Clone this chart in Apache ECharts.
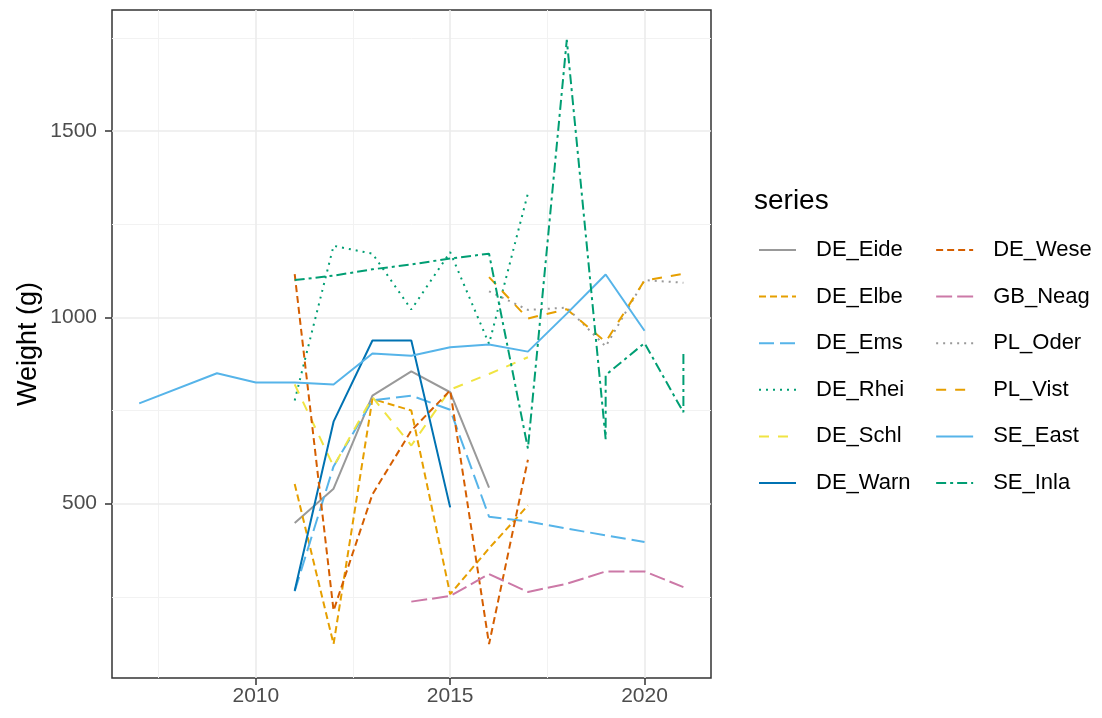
<!DOCTYPE html>
<html>
<head>
<meta charset="utf-8">
<script src="https://cdn.jsdelivr.net/npm/echarts@6/dist/echarts.min.js"></script>
<style>html,body{margin:0;padding:0;background:#fff}#chart{width:1102px;height:718px}</style>
</head>
<body>
<div id="chart"></div>
<script>
// ---- data ----
const seriesNames = ['DE_Eide','DE_Elbe','DE_Ems','DE_Rhei','DE_Schl','DE_Warn','DE_Wese','GB_Neag','PL_Oder','PL_Vist','SE_East','SE_Inla'];

const DE_Eide_years = [2011, 2012, 2013, 2014, 2015, 2016];
const DE_Eide_values = [448, 540, 790, 855, 799, 543];

const DE_Elbe_years = [2011, 2012, 2013, 2014, 2015, 2016, 2017];
const DE_Elbe_values = [553, 123, 781, 750, 257, 380, 495];

const DE_Ems_years = [2011, 2012, 2013, 2014, 2015, 2016, 2017, 2018, 2019, 2020];
const DE_Ems_values = [265, 600, 777, 790, 752, 465, 452, 433, 415, 397];

const DE_Rhei_years = [2011, 2012, 2013, 2014, 2015, 2016, 2017];
const DE_Rhei_values = [777, 1192, 1171, 1021, 1175, 929, 1333];

const DE_Schl_years = [2011, 2012, 2013, 2014, 2015, 2016, 2017];
const DE_Schl_values = [820, 600, 786, 656, 806, 848, 893];

const DE_Warn_years = [2011, 2012, 2013, 2014, 2015];
const DE_Warn_values = [266, 720, 938, 938, 490];

const DE_Wese_years = [2011, 2012, 2013, 2014, 2015, 2016, 2017];
const DE_Wese_values = [1116, 213, 525, 696, 804, 123, 618];

const GB_Neag_years = [2014, 2015, 2016, 2017, 2018, 2019, 2020, 2021];
const GB_Neag_values = [237, 252, 311, 263, 285, 318, 318, 276];

const PL_Oder_years = [2016, 2017, 2018, 2019, 2020, 2021];
const PL_Oder_values = [1070, 1020, 1026, 922, 1100, 1093];

const PL_Vist_years = [2016, 2017, 2018, 2019, 2020, 2021];
const PL_Vist_values = [1108, 997, 1022, 934, 1099, 1117];

const SE_East_years = [2007, 2009, 2010, 2011, 2012, 2013, 2014, 2015, 2016, 2017, 2018, 2019, 2020];
const SE_East_values = [769, 850, 825, 825, 820, 903, 897, 920, 927, 908, 1010, 1115, 964];

const SE_Inla_years = [2011, 2012, 2013, 2014, 2015, 2016, 2017, 2018, 2019, 2019, 2020, 2021, 2021];
const SE_Inla_values = [1100, 1112, 1129, 1142, 1158, 1171, 648, 1745, 673, 845, 931, 745, 909];

const xTickValues = [2010, 2015, 2020];
const xMinorValues = [2007.5, 2012.5, 2017.5];
const yTickValues = [500, 1000, 1500];
const yMinorValues = [250, 750, 1250, 1750];

// ---- styles ----
const FONT = '"Liberation Sans", Arial, sans-serif';
const styles = {
  DE_Eide: {color: '#999999', type: 'solid'},
  DE_Elbe: {color: '#E69F00', type: [7, 4]},
  DE_Ems:  {color: '#56B4E9', type: [15, 6]},
  DE_Rhei: {color: '#009E73', type: [2, 5]},
  DE_Schl: {color: '#F0E442', type: [10, 9]},
  DE_Warn: {color: '#0072B2', type: 'solid'},
  DE_Wese: {color: '#D55E00', type: [7, 4]},
  GB_Neag: {color: '#CC79A7', type: [16, 5]},
  PL_Oder: {color: '#999999', type: [2, 5]},
  PL_Vist: {color: '#E69F00', type: [10, 9]},
  SE_East: {color: '#56B4E9', type: 'solid'},
  SE_Inla: {color: '#009E73', type: [10, 4, 3, 4]}
};
const dataMap = {
  DE_Eide: [DE_Eide_years, DE_Eide_values],
  DE_Elbe: [DE_Elbe_years, DE_Elbe_values],
  DE_Ems: [DE_Ems_years, DE_Ems_values],
  DE_Rhei: [DE_Rhei_years, DE_Rhei_values],
  DE_Schl: [DE_Schl_years, DE_Schl_values],
  DE_Warn: [DE_Warn_years, DE_Warn_values],
  DE_Wese: [DE_Wese_years, DE_Wese_values],
  GB_Neag: [GB_Neag_years, GB_Neag_values],
  PL_Oder: [PL_Oder_years, PL_Oder_values],
  PL_Vist: [PL_Vist_years, PL_Vist_values],
  SE_East: [SE_East_years, SE_East_values],
  SE_Inla: [SE_Inla_years, SE_Inla_values]
};

const gridMajor = {color: '#EBEBEB', width: 1.6, type: 'solid'};
const gridMinor = {color: '#F2F2F2', width: 1, type: 'solid'};

const gridSeries = {
  name: '__grid', type: 'line', data: [], silent: true, z: 1,
  markLine: {
    silent: true, symbol: ['none', 'none'], animation: false,
    label: {show: false}, emphasis: {disabled: true},
    data: [].concat(
      yMinorValues.map(v => ({yAxis: v, lineStyle: gridMinor})),
      xMinorValues.map(v => ({xAxis: v, lineStyle: gridMinor})),
      yTickValues.map(v => ({yAxis: v, lineStyle: gridMajor})),
      xTickValues.map(v => ({xAxis: v, lineStyle: gridMajor}))
    )
  }
};

const lineSeries = seriesNames.map(name => {
  const [ys, vs] = dataMap[name];
  return {
    name: name, type: 'line', z: 10,
    data: ys.map((y, i) => [y, vs[i]]),
    symbol: 'none', showSymbol: false, smooth: false,
    color: styles[name].color,
    lineStyle: {color: styles[name].color, width: 2, type: styles[name].type, cap: 'butt'},
    emphasis: {disabled: true},
    animation: false
  };
});

const plainNum = v => String(Math.round(v));

const chart = echarts.init(document.getElementById('chart'), null, {renderer: 'canvas'});
chart.setOption({
  backgroundColor: '#ffffff',
  animation: false,
  title: {
    text: 'series', left: 754, top: 187, padding: 0,
    textStyle: {fontFamily: FONT, fontSize: 28, fontWeight: 'normal', color: '#000000'}
  },
  legend: {
    data: seriesNames, orient: 'vertical', left: 758, top: 239, height: 262, padding: 0,
    itemWidth: 37, itemHeight: 22, itemGap: 24.6,
    itemStyle: {opacity: 0, borderWidth: 0},
    lineStyle: {width: 2},
    textStyle: {fontFamily: FONT, fontSize: 22, color: '#000000', padding: [0, 0, 0, 15]},
    selectedMode: false
  },
  grid: {
    left: 112, right: 391, top: 10, bottom: 40,
    show: true, borderColor: '#333333', borderWidth: 1.5, backgroundColor: 'transparent'
  },
  xAxis: {
    type: 'value', min: 2006.3, max: 2021.71,
    axisLine: {show: false},
    axisTick: {show: true, length: 7, lineStyle: {color: '#333333', width: 1.5}, customValues: xTickValues},
    axisLabel: {customValues: xTickValues, formatter: plainNum, margin: 8, color: '#4D4D4D', fontFamily: FONT, fontSize: 21},
    splitLine: {show: false}
  },
  yAxis: {
    type: 'value', min: 32, max: 1825,
    name: 'Weight (g)', nameLocation: 'middle', nameGap: 70, nameRotate: 90,
    nameMoveOverlap: false,
    nameTextStyle: {fontFamily: FONT, fontSize: 27, color: '#000000'},
    axisLine: {show: false},
    axisTick: {show: true, length: 7, lineStyle: {color: '#333333', width: 1.5}, customValues: yTickValues},
    axisLabel: {customValues: yTickValues, formatter: plainNum, margin: 15, color: '#4D4D4D', fontFamily: FONT, fontSize: 21},
    splitLine: {show: false}
  },
  series: [gridSeries].concat(lineSeries)
});
</script>
</body>
</html>
